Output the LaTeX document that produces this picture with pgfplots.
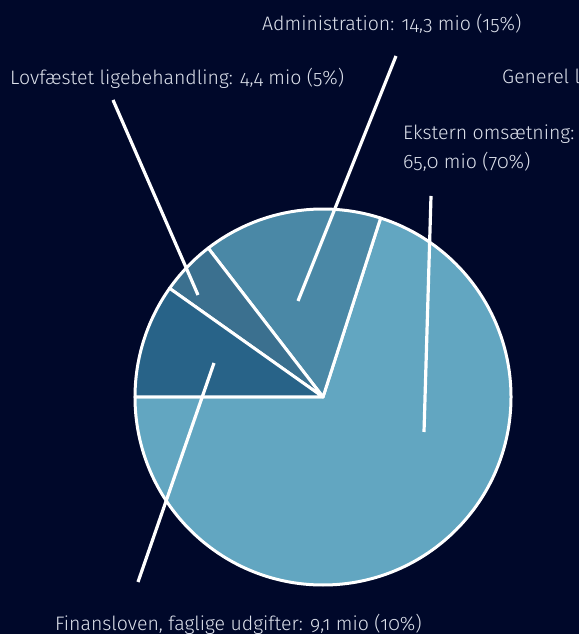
\documentclass[border=0pt]{standalone}
\usepackage{pgfplots}
\pgfplotsset{compat=1.18}
\usepackage{fontspec}
\setmainfont{Fira Sans}[UprightFont={* Light}, Numbers=OldStyle]

\definecolor{bg}{RGB}{0,8,42}
\definecolor{cEks}{RGB}{98,166,193}
\definecolor{cAdm}{RGB}{74,136,166}
\definecolor{cLov}{RGB}{59,112,143}
\definecolor{cFin}{RGB}{40,99,136}
\definecolor{txt}{RGB}{222,226,236}

% values in mio kr
\def\vEks{65.0}
\def\vGen{0.0}
\def\vAdm{14.3}
\def\vLov{4.4}
\def\vFin{9.1}
\pgfmathsetmacro\total{\vEks+\vGen+\vAdm+\vLov+\vFin}
\pgfmathsetmacro\aA{-180}
\pgfmathsetmacro\aB{\aA+\vEks/\total*360}
\pgfmathsetmacro\aC{\aB+\vGen/\total*360}
\pgfmathsetmacro\aD{\aC+\vAdm/\total*360}
\pgfmathsetmacro\aE{\aD+\vLov/\total*360}
\pgfmathsetmacro\aF{\aE+\vFin/\total*360}
\def\R{188}

\newcommand\slice[3]{%
  \filldraw[fill=#3, draw=white, line width=3bp, line join=round]
    (axis cs:0,0) -- (axis cs:{\R*cos(#1)},{\R*sin(#1)})
    arc[start angle=#1, end angle=#2, radius=\R bp] -- cycle;}

\begin{document}
\begin{tikzpicture}
\begin{axis}[
    hide axis, clip=false,
    x=1bp, y=1bp,
    xmin=-323, xmax=256, ymin=-237, ymax=397,
]
\coordinate (bl) at (axis cs:-323,-237);
\coordinate (tr) at (axis cs:256,397);
\fill[bg] (bl) rectangle (tr);

\slice{\aA}{\aB}{cEks}
\slice{\aC}{\aD}{cAdm}
\slice{\aD}{\aE}{cLov}
\slice{\aE}{\aF}{cFin}

% leader lines
\begin{scope}[white, line width=3.2bp]
\draw (axis cs:73,341) -- (axis cs:-25,96);
\draw (axis cs:-210,297) -- (axis cs:-125,102);
\draw (axis cs:108,201) -- (axis cs:101,-35);
\draw (axis cs:-185,-185) -- (axis cs:-109,34);
\end{scope}

\begin{scope}[every node/.style={anchor=base west, inner sep=0pt, text=txt, font=\fontsize{19.5bp}{23bp}\selectfont}]
\node at (axis cs:-61,366) {Administration: 14,3 mio (15\%)};
\node at (axis cs:-313,312) {Lovfæstet ligebehandling: 4,4 mio (5\%)};
\node at (axis cs:179,313) {Generel ledelse: 0,0 mio (0\%)};
\node at (axis cs:80,257) {Ekstern omsætning:};
\node at (axis cs:80,228) {65,0 mio (70\%)};
\node at (axis cs:-268,-234) {Finansloven, faglige udgifter: 9,1 mio (10\%)};
\end{scope}
\end{axis}
\pgfresetboundingbox
\useasboundingbox (bl) rectangle (tr);
\end{tikzpicture}
\end{document}
